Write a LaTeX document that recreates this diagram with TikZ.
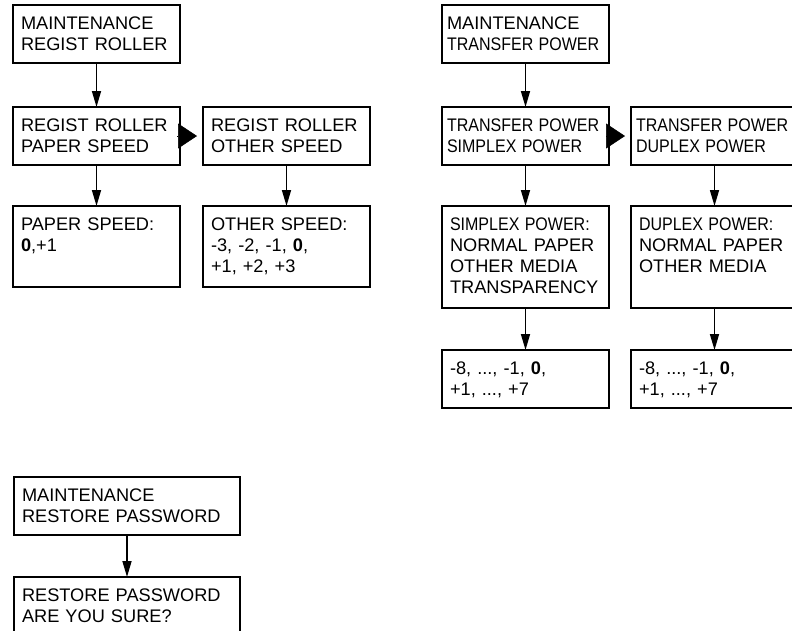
\documentclass[tikz,border=0pt]{standalone}
\usepackage{fontspec}
\setmainfont{Liberation Sans}
\usepackage{graphicx}
\usetikzlibrary{arrows.meta, positioning}
\newcommand{\narrow}[1]{\scalebox{0.88}[1]{#1}}

\begin{document}
\begin{tikzpicture}[
  x=1pt, y=-1pt,
  font=\fontsize{18.2}{21}\selectfont,
  box/.style={draw, line width=2pt, outer sep=0pt, align=left, text width=151pt, inner xsep=8pt, inner ysep=11pt, text height=13.5pt, text depth=22.5pt},
  tight/.style={inner xsep=5pt, text width=157pt},
  wide/.style={text width=210pt},
  rows3/.style={text depth=45.5pt},
  rows4/.style={text depth=66.5pt},
  arrow/.style={-{Triangle[length=16pt, width=9pt]}, line width=1.6pt},
  pointer/.style={-{Triangle[length=19pt, width=25pt]}, line width=0.5pt}
]
\useasboundingbox (0,0) rectangle (792,630);
\clip (0,0) rectangle (792,630);
% regist roller
\node[box, anchor=north west] (regist) at (13,5) {MAINTENANCE\\REGIST ROLLER};
\node[box, below=44pt of regist] (paper) {REGIST ROLLER\\PAPER SPEED};
\node[box, right=23pt of paper] (other) {REGIST ROLLER\\OTHER SPEED};
\node[box, rows3, below=41pt of paper] (paperval) {PAPER SPEED:\\\textbf{0},+1};
\node[box, rows3, below=41pt of other] (otherval) {OTHER SPEED:\\-3, -2, -1, \textbf{0},\\+1, +2, +3};
\draw[arrow] (regist) -- (paper);
\draw[arrow] (paper) -- (paperval);
\draw[arrow] (other) -- (otherval);
\draw[pointer] ([xshift=-3pt]paper.east) -- ([xshift=-6pt]other.west);
% transfer power
\node[box, tight, anchor=north west] (transfer) at (442,5) {MAINTENANCE\\\narrow{TRANSFER POWER}};
\node[box, tight, below=44pt of transfer] (simplex) {\narrow{TRANSFER POWER}\\\narrow{SIMPLEX POWER}};
\node[box, tight, right=22pt of simplex] (duplex) {\narrow{TRANSFER POWER}\\\narrow{DUPLEX POWER}};
\node[box, rows4, below=41pt of simplex] (simplexmedia) {\narrow{SIMPLEX POWER:}\\NORMAL PAPER\\OTHER MEDIA\\TRANSPARENCY};
\node[box, rows4, below=41pt of duplex] (duplexmedia) {\narrow{DUPLEX POWER:}\\NORMAL PAPER\\OTHER MEDIA};
\node[box, below=42pt of simplexmedia] (simplexval) {-8, ..., -1, \textbf{0},\\+1, ..., +7};
\node[box, below=42pt of duplexmedia] (duplexval) {-8, ..., -1, \textbf{0},\\+1, ..., +7};
\draw[arrow] (transfer) -- (simplex);
\draw[arrow] (simplex) -- (simplexmedia);
\draw[arrow] (duplex) -- (duplexmedia);
\draw[arrow] (simplexmedia) -- (simplexval);
\draw[arrow] (duplexmedia) -- (duplexval);
\draw[pointer] ([xshift=-3pt]simplex.east) -- ([xshift=-6pt]duplex.west);
% restore password
\node[box, wide, anchor=north west] (restore) at (14,477) {MAINTENANCE\\RESTORE PASSWORD};
\node[box, wide, rows3, below=42pt of restore] (sure) {RESTORE PASSWORD\\ARE YOU SURE?};
\draw[arrow] (restore) -- (sure);
\end{tikzpicture}
\end{document}
